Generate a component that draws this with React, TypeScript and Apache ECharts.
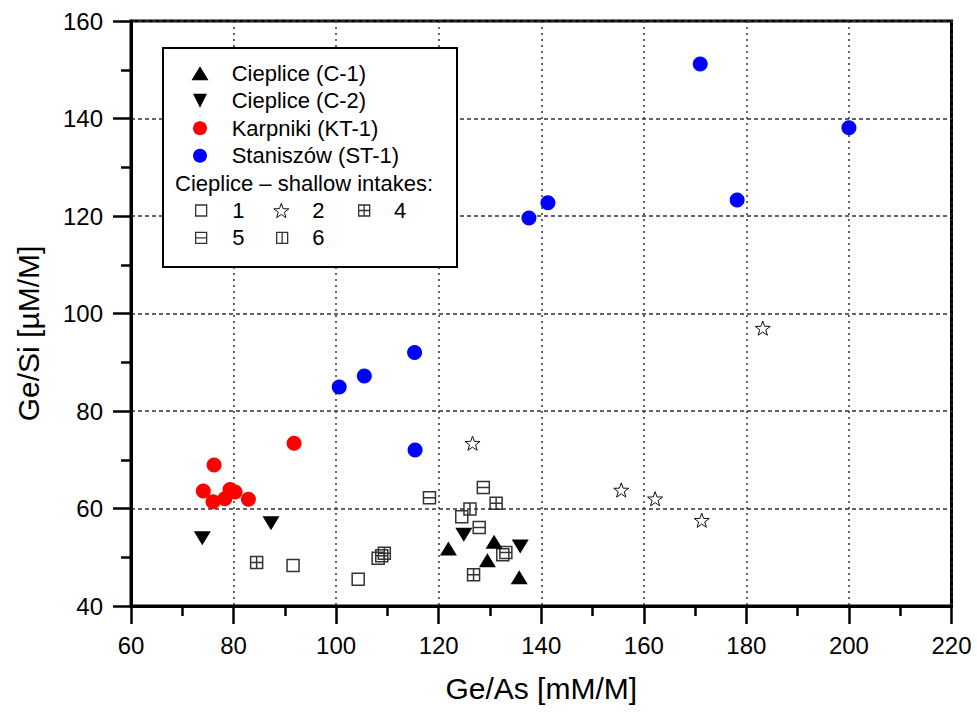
import React, { useEffect, useRef } from 'react';
import * as echarts from 'echarts';

const FONT = 'Arial, "Liberation Sans", sans-serif';

// Axis ranges
const X_MIN = 60;
const X_MAX = 220;
const X_STEP = 20;
const Y_MIN = 40;
const Y_MAX = 160;
const Y_STEP = 20;

const X_TITLE = 'Ge/As [mM/M]';
const Y_TITLE = 'Ge/Si [µM/M]';
const LEGEND_HEADING = 'Cieplice – shallow intakes:';

// Series data [Ge/As, Ge/Si]
const cieplice1: number[][] = [[121.9, 51.8], [130.8, 53.2], [129.5, 49.4], [135.7, 45.9]];
const cieplice2: number[][] = [[73.9, 53.9], [87.3, 57.0], [124.9, 54.6], [135.9, 52.2]];
const karpniki: number[][] = [
  [91.8, 73.4], [76.2, 68.9], [74.1, 63.6], [76.0, 61.4],
  [78.3, 62.0], [79.3, 63.9], [80.3, 63.4], [82.9, 61.9],
];
const staniszow: number[][] = [
  [171.0, 151.2], [200.0, 138.1], [178.2, 123.3], [141.3, 122.7], [137.6, 119.6],
  [115.3, 92.0], [105.5, 87.2], [100.6, 84.9], [115.4, 72.0],
];
const intake1: number[][] = [[91.6, 48.3], [104.3, 45.5], [108.2, 49.8], [124.5, 58.3], [132.5, 50.5]];
const intake2: number[][] = [[126.6, 73.4], [155.6, 63.8], [162.2, 62.0], [171.3, 57.6], [183.2, 97.0]];
const intake4: number[][] = [[84.5, 48.9], [131.2, 61.1], [126.8, 46.4], [109.4, 50.8]];
const intake5: number[][] = [[118.2, 62.2], [128.7, 64.3], [127.9, 56.1], [133.1, 51.0], [108.9, 50.3]];
const intake6: number[][] = [[126.1, 59.9]];

const NAMES = ['Cieplice (C-1)', 'Cieplice (C-2)', 'Karpniki (KT-1)', 'Staniszów (ST-1)', '1', '2', '4', '5', '6'];

// Symbols
const SQ = 'path://M0,0H10V10H0Z';
const SQ_PLUS = 'path://M0,0H10V10H0Z M5,0V10 M0,5H10';
const SQ_H = 'path://M0,0H10V10H0Z M0,5H10';
const SQ_V = 'path://M0,0H10V10H0Z M5,0V10';
const STAR =
  'path://M0,-10L2.351,-3.236L9.511,-3.09L3.804,1.236L5.878,8.09L0,4L-5.878,8.09L-3.804,1.236L-9.511,-3.09L-2.351,-3.236Z';
const TRI_DOWN = 'path://M0,0L10,0L5,10Z';

const hollow = (w: number, c = '#333') => ({ color: 'rgba(0,0,0,0)', borderColor: c, borderWidth: w, opacity: 1 });
const solid = (c: string) => ({ color: c, opacity: 1, borderWidth: 0 });

function buildOption() {
  const textBase = { fontFamily: FONT, color: '#000' };
  const singleLegend = (name: string, icon: string, left: number, cy: number, size: number, textStart: number, bw: number) => ({
    show: true,
    selectedMode: false,
    orient: 'horizontal',
    left,
    top: cy - 11,
    padding: 0,
    itemWidth: size,
    itemHeight: size,
    data: [{ name, icon }],
    itemStyle: { borderWidth: bw, opacity: 1 },
    textStyle: { ...textBase, fontSize: 22, lineHeight: 22, padding: [0, 0, 0, textStart - (left + size + 5)] },
  });

  return {
    animation: false,
    backgroundColor: '#fff',
    grid: {
      left: 131,
      right: 25.5,
      top: 21,
      bottom: 110,
      show: true,
      borderColor: '#000',
      borderWidth: 3,
      backgroundColor: '#fff',
    },
    xAxis: {
      type: 'value',
      min: X_MIN,
      max: X_MAX,
      interval: X_STEP,
      name: X_TITLE,
      nameLocation: 'middle',
      nameGap: 67,
      nameTextStyle: { ...textBase, fontSize: 30 },
      axisLine: { show: true, onZero: false, lineStyle: { color: '#000', width: 3 } },
      axisTick: { show: true, inside: false, length: 18, lineStyle: { color: '#000', width: 2.5 } },
      minorTick: { show: true, splitNumber: 2, length: 10, lineStyle: { color: '#000', width: 2.5 } },
      axisLabel: { ...textBase, fontSize: 24, margin: 27 },
      splitLine: { show: true, lineStyle: { color: '#333', width: 1.5, type: [2, 4] } },
    },
    yAxis: {
      type: 'value',
      min: Y_MIN,
      max: Y_MAX,
      interval: Y_STEP,
      name: Y_TITLE,
      nameLocation: 'middle',
      nameGap: 88,
      nameTextStyle: { ...textBase, fontSize: 30, padding: [0, 40, 0, 0] },
      axisLine: { show: true, onZero: false, lineStyle: { color: '#000', width: 3 } },
      axisTick: { show: true, inside: false, length: 18, lineStyle: { color: '#000', width: 2.5 } },
      minorTick: { show: true, splitNumber: 2, length: 10, lineStyle: { color: '#000', width: 2.5 } },
      axisLabel: { ...textBase, fontSize: 24, margin: 28 },
      splitLine: { show: true, lineStyle: { color: '#333', width: 1.5, type: [4, 3] } },
    },
    legend: [
      {
        show: true,
        selectedMode: false,
        orient: 'vertical',
        left: 191.5,
        top: 62.3,
        padding: 0,
        itemWidth: 17,
        itemHeight: 14,
        itemGap: 5.5,
        data: [
          { name: NAMES[0], icon: 'triangle' },
          { name: NAMES[1], icon: TRI_DOWN },
          { name: NAMES[2], icon: 'circle' },
          { name: NAMES[3], icon: 'circle' },
        ],
        itemStyle: { borderWidth: 0, opacity: 1 },
        textStyle: { ...textBase, fontSize: 22, lineHeight: 22, padding: [0, 0, 0, 231.7 - (191.5 + 17 + 5)] },
      },
      singleLegend('1', SQ, 195, 210.5, 11, 231.7, 1.3),
      singleLegend('2', STAR, 273.3, 210.5, 15, 311.7, 1),
      singleLegend('4', SQ_PLUS, 358, 210.5, 11, 393.3, 1.3),
      singleLegend('5', SQ_H, 195, 237.8, 11, 231.7, 1.3),
      singleLegend('6', SQ_V, 276, 237.8, 11, 311.7, 1.3),
    ],
    graphic: [
      {
        type: 'rect',
        z: 3,
        shape: { x: 163, y: 48, width: 294, height: 219 },
        style: { fill: '#fff', stroke: '#000', lineWidth: 2 },
      },
      {
        type: 'text',
        z: 5,
        x: 175,
        y: 183,
        style: { text: LEGEND_HEADING, font: `22px ${FONT}`, fill: '#000', verticalAlign: 'middle', align: 'left' },
      },
    ],
    series: [
      {
        name: NAMES[0], type: 'scatter', data: cieplice1, symbol: 'triangle', symbolSize: [17, 14],
        itemStyle: solid('#000'), z: 3,
      },
      {
        name: NAMES[1], type: 'scatter', data: cieplice2, symbol: TRI_DOWN, symbolSize: [17, 14],
        itemStyle: solid('#000'), z: 3,
      },
      {
        name: NAMES[2], type: 'scatter', data: karpniki, symbol: 'circle', symbolSize: 15,
        itemStyle: solid('#ff0000'), z: 3,
      },
      {
        name: NAMES[3], type: 'scatter', data: staniszow, symbol: 'circle', symbolSize: 15,
        itemStyle: solid('#0000ff'), z: 3,
      },
      {
        name: NAMES[4], type: 'scatter', data: intake1, symbol: SQ, symbolSize: 12, symbolKeepAspect: true,
        itemStyle: hollow(1.5), z: 2,
      },
      {
        name: NAMES[5], type: 'scatter', data: intake2, symbol: STAR, symbolSize: 15, symbolKeepAspect: true,
        itemStyle: hollow(1, '#111'), z: 2,
      },
      {
        name: NAMES[6], type: 'scatter', data: intake4, symbol: SQ_PLUS, symbolSize: 12, symbolKeepAspect: true,
        itemStyle: hollow(1.5), z: 2,
      },
      {
        name: NAMES[7], type: 'scatter', data: intake5, symbol: SQ_H, symbolSize: 12, symbolKeepAspect: true,
        itemStyle: hollow(1.5), z: 2,
      },
      {
        name: NAMES[8], type: 'scatter', data: intake6, symbol: SQ_V, symbolSize: 12, symbolKeepAspect: true,
        itemStyle: hollow(1.5), z: 2,
      },
    ],
  };
}

export default function App() {
  const ref = useRef<HTMLDivElement>(null);
  useEffect(() => {
    if (!ref.current) return;
    const chart = echarts.init(ref.current, null, { renderer: 'svg' });
    chart.setOption(buildOption() as any);
    return () => chart.dispose();
  }, []);
  return (
    <div
      ref={ref}
      style={{ position: 'fixed', left: 0, top: 0, width: 977, height: 716, background: '#fff' }}
    />
  );
}
